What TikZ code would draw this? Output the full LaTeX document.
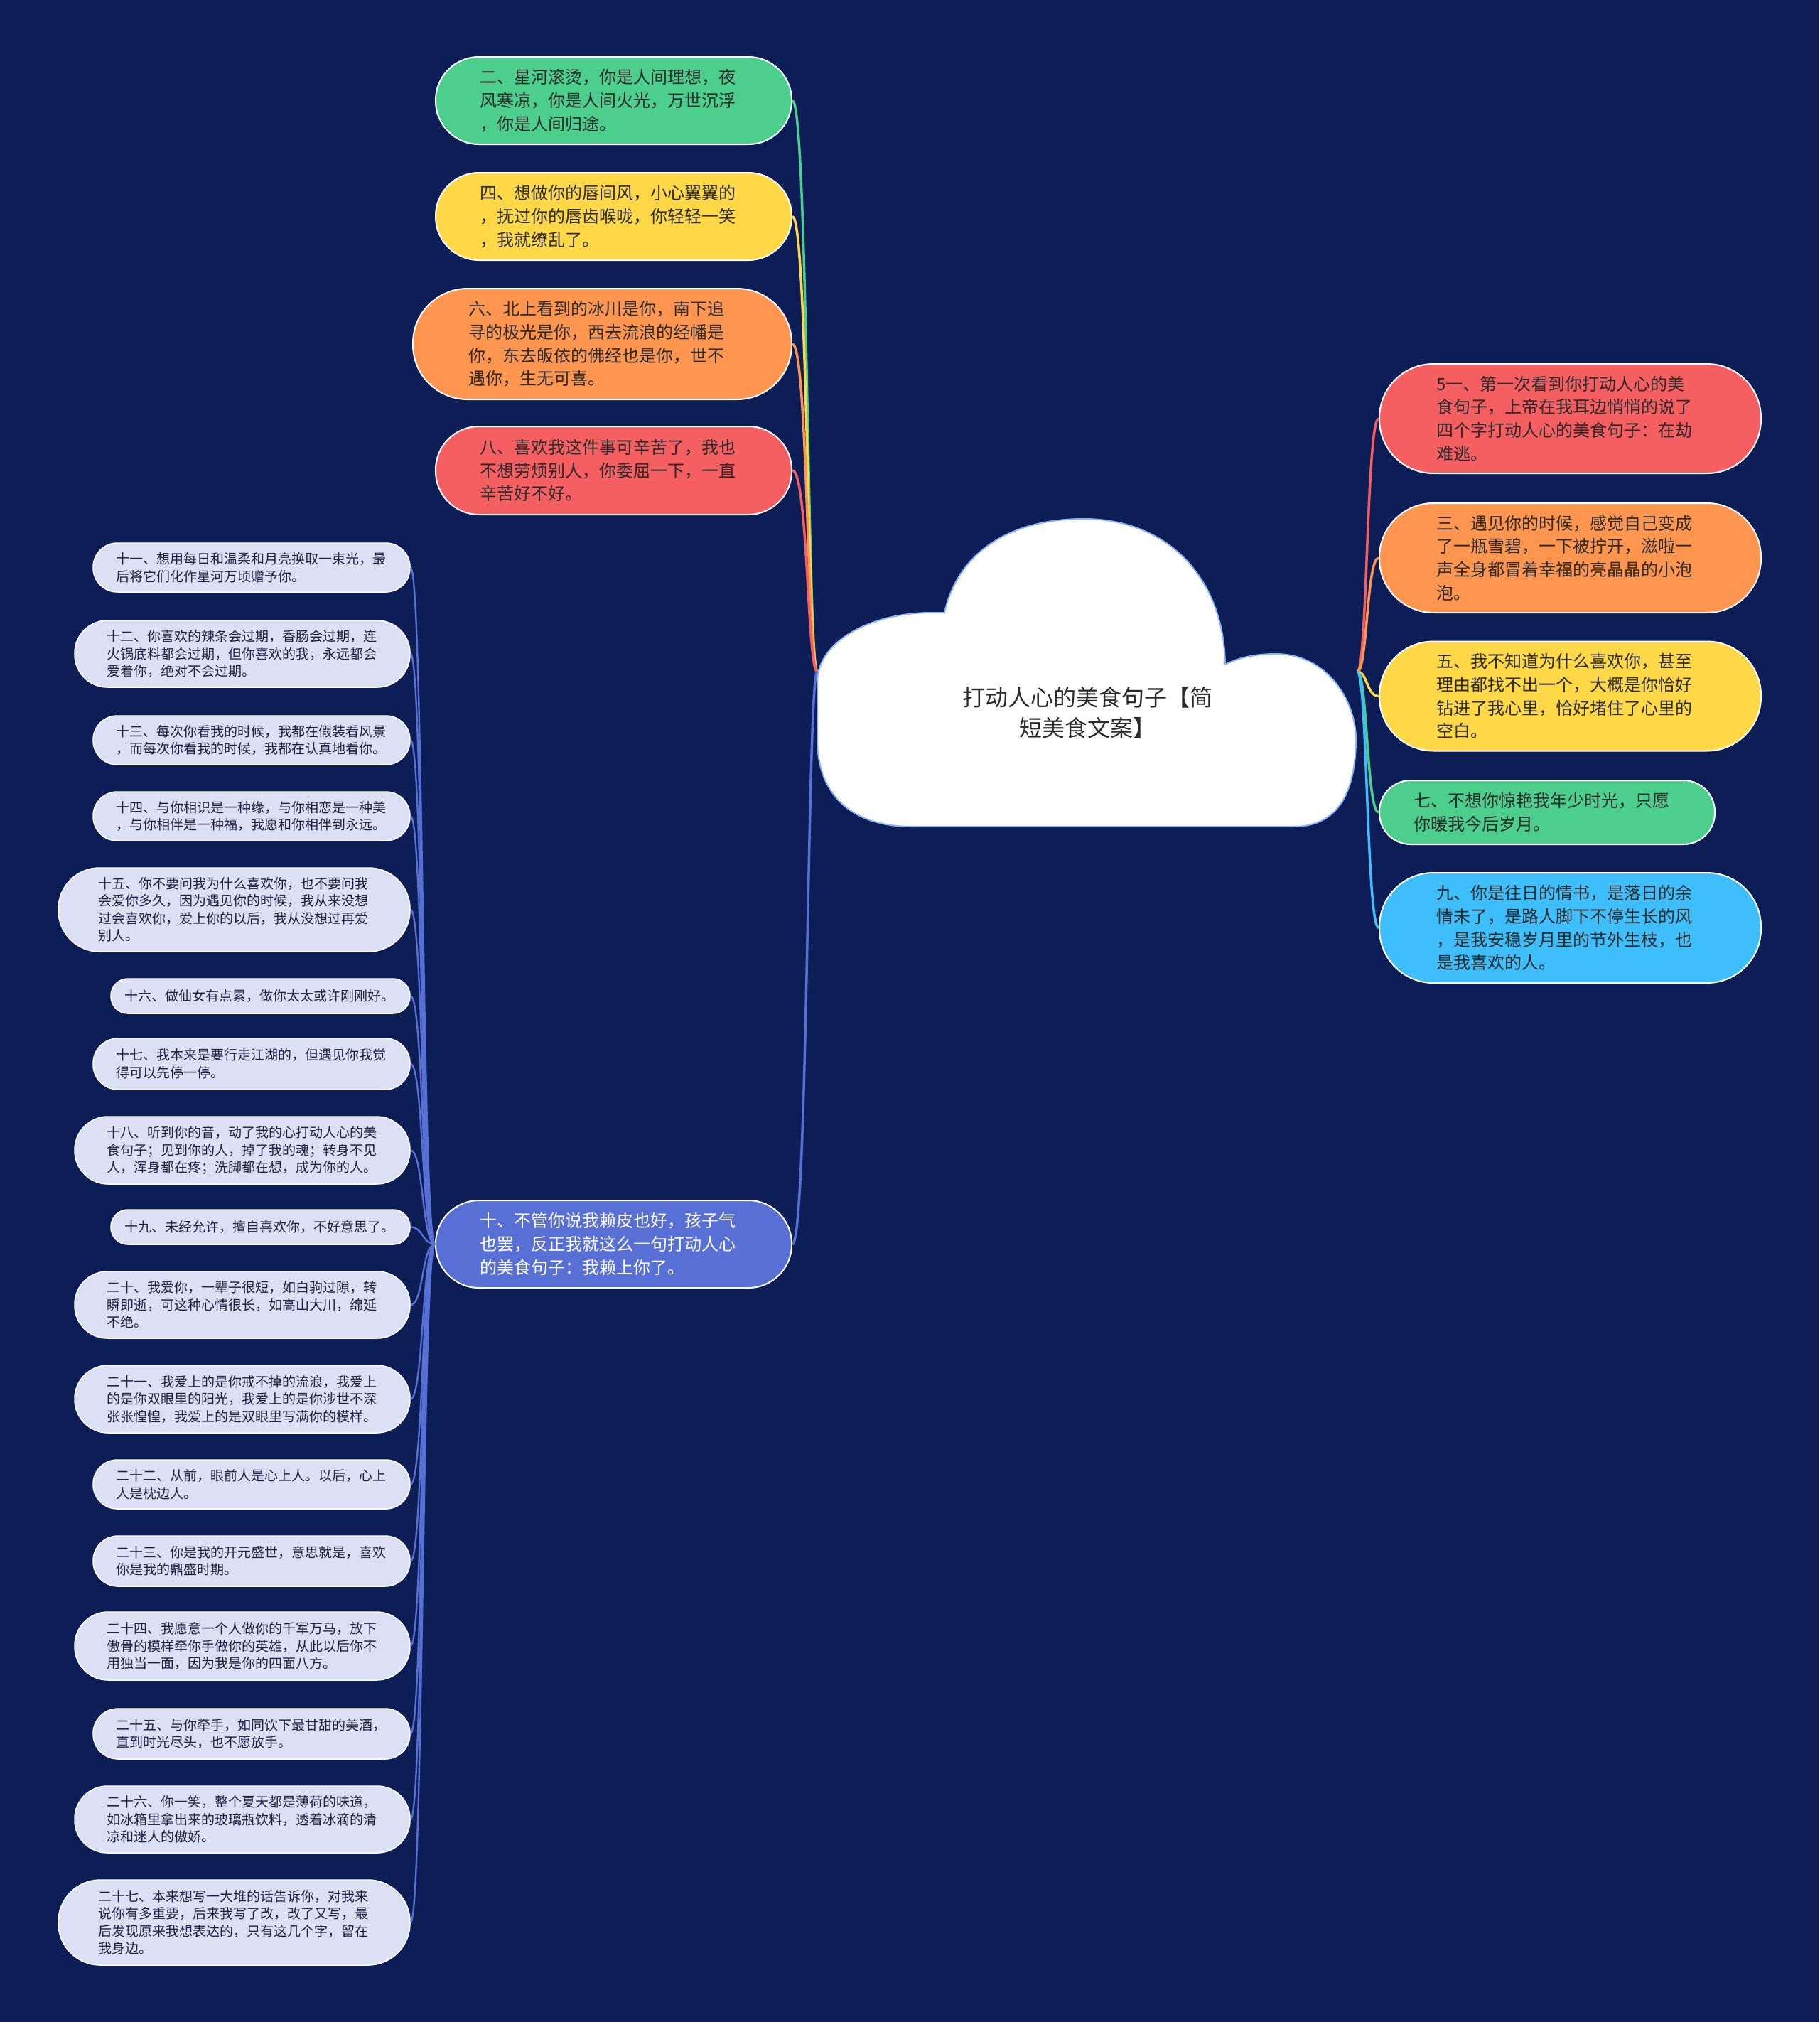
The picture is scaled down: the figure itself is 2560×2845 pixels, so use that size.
\documentclass[tikz,border=0pt]{standalone}
\usepackage{fontspec}
\setmainfont{Noto Sans CJK SC}
\definecolor{bg}{HTML}{0D1D56}
\definecolor{cgreen}{HTML}{4CCF8D}
\definecolor{cyellow}{HTML}{FFD848}
\definecolor{corange}{HTML}{FF9650}
\definecolor{cred}{HTML}{F55F62}
\definecolor{cblue}{HTML}{5870D6}
\definecolor{csky}{HTML}{3EBEFA}
\definecolor{csmall}{HTML}{DCE0F5}
\definecolor{txt}{HTML}{2A2A2A}
\definecolor{stxt}{HTML}{1C2142}
\definecolor{cloudline}{HTML}{8AB4F8}
\begin{document}
\begin{tikzpicture}[x=1pt,y=-1pt,
  pillbox/.style n args={3}{minimum width=#1pt, minimum height=#2pt, rounded corners=#3pt},
  midnode/.style={draw=white, line width=2pt, inner sep=0pt, text width=376pt, align=left,
    font=\fontsize{24}{32.7}\selectfont, text=txt},
  smallnode/.style={draw=white, line width=1.5pt, fill=csmall, inner sep=0pt, text width=382pt, align=left,
    font=\fontsize{19}{24.5}\selectfont, text=stxt},
  conn/.style={line width=3.5pt},
  sconn/.style={line width=2.4pt, draw=cblue},
  cloudshape/.style={fill=white, draw=cloudline, line width=2pt},
  titletext/.style={font=\fontsize{32}{43}\selectfont, text=txt, align=center}
]
\useasboundingbox (0,0) rectangle (2560,2845);
\fill[bg] (0,0) rectangle (2560,2845);

\coordinate (cl) at (1150,945);
\coordinate (cr) at (1910,945);

% left upper nodes
\node[midnode, fill=cgreen, pillbox={501}{123}{61}] (A) at (863.5,141.5) {二、星河滚烫，你是人间理想，夜\\风寒凉，你是人间火光，万世沉浮\\，你是人间归途。};
\node[midnode, fill=cyellow, pillbox={501}{123}{61}] (B) at (863.5,304.5) {四、想做你的唇间风，小心翼翼的\\，抚过你的唇齿喉咙，你轻轻一笑\\，我就缭乱了。};
\node[midnode, fill=corange, pillbox={533}{156}{77}] (C) at (847.5,484) {六、北上看到的冰川是你，南下追\\寻的极光是你，西去流浪的经幡是\\你，东去皈依的佛经也是你，世不\\遇你，生无可喜。};
\node[midnode, fill=cred, pillbox={501}{124}{61}] (D) at (863.5,662) {八、喜欢我这件事可辛苦了，我也\\不想劳烦别人，你委屈一下，一直\\辛苦好不好。};
\node[midnode, fill=cblue, text=white, pillbox={501}{123}{61}] (E) at (863.5,1750.5) {十、不管你说我赖皮也好，孩子气\\也罢，反正我就这么一句打动人心\\的美食句子：我赖上你了。};

% right nodes
\node[midnode, fill=cred, pillbox={537}{154}{76}] (R1) at (2209.5,589) {5一、第一次看到你打动人心的美\\食句子，上帝在我耳边悄悄的说了\\四个字打动人心的美食句子：在劫\\难逃。};
\node[midnode, fill=corange, pillbox={537}{154}{76}] (R2) at (2209.5,785) {三、遇见你的时候，感觉自己变成\\了一瓶雪碧，一下被拧开，滋啦一\\声全身都冒着幸福的亮晶晶的小泡\\泡。};
\node[midnode, fill=cyellow, pillbox={537}{154}{76}] (R3) at (2209.5,979.5) {五、我不知道为什么喜欢你，甚至\\理由都找不出一个，大概是你恰好\\钻进了我心里，恰好堵住了心里的\\空白。};
\node[midnode, fill=cgreen, pillbox={472}{90}{44}] (R4) at (2177,1143) {七、不想你惊艳我年少时光，只愿\\你暖我今后岁月。};
\node[midnode, fill=csky, pillbox={537}{155}{76}] (R5) at (2209.5,1305.5) {九、你是往日的情书，是落日的余\\情未了，是路人脚下不停生长的风\\，是我安稳岁月里的节外生枝，也\\是我喜欢的人。};

% small nodes
\node[smallnode, pillbox={446}{69}{34}] (S11) at (354,798.5) {十一、想用每日和温柔和月亮换取一束光，最\\后将它们化作星河万顷赠予你。};
\node[smallnode, pillbox={472}{94}{46}] (S12) at (341,920) {十二、你喜欢的辣条会过期，香肠会过期，连\\火锅底料都会过期，但你喜欢的我，永远都会\\爱着你，绝对不会过期。};
\node[smallnode, pillbox={446}{69}{34}] (S13) at (354,1041.5) {十三、每次你看我的时候，我都在假装看风景\\，而每次你看我的时候，我都在认真地看你。};
\node[smallnode, pillbox={446}{69}{34}] (S14) at (354,1148.5) {十四、与你相识是一种缘，与你相恋是一种美\\，与你相伴是一种福，我愿和你相伴到永远。};
\node[smallnode, pillbox={495}{118}{58}] (S15) at (329.5,1280) {十五、你不要问我为什么喜欢你，也不要问我\\会爱你多久，因为遇见你的时候，我从来没想\\过会喜欢你，爱上你的以后，我从没想过再爱\\别人。};
\node[smallnode, pillbox={421}{49}{24}] (S16) at (366.5,1401.5) {十六、做仙女有点累，做你太太或许刚刚好。};
\node[smallnode, pillbox={446}{72}{35}] (S17) at (354,1497) {十七、我本来是要行走江湖的，但遇见你我觉\\得可以先停一停。};
\node[smallnode, pillbox={472}{95}{47}] (S18) at (341,1618.5) {十八、听到你的音，动了我的心打动人心的美\\食句子；见到你的人，掉了我的魂；转身不见\\人，浑身都在疼；洗脚都在想，成为你的人。};
\node[smallnode, pillbox={421}{49}{24}] (S19) at (366.5,1726.5) {十九、未经允许，擅自喜欢你，不好意思了。};
\node[smallnode, pillbox={472}{94}{46}] (S20) at (341,1836) {二十、我爱你，一辈子很短，如白驹过隙，转\\瞬即逝，可这种心情很长，如高山大川，绵延\\不绝。};
\node[smallnode, pillbox={472}{95}{47}] (S21) at (341,1968.5) {二十一、我爱上的是你戒不掉的流浪，我爱上\\的是你双眼里的阳光，我爱上的是你涉世不深\\张张惶惶，我爱上的是双眼里写满你的模样。};
\node[smallnode, pillbox={446}{69}{34}] (S22) at (354,2088.5) {二十二、从前，眼前人是心上人。以后，心上\\人是枕边人。};
\node[smallnode, pillbox={446}{71}{35}] (S23) at (354,2196.5) {二十三、你是我的开元盛世，意思就是，喜欢\\你是我的鼎盛时期。};
\node[smallnode, pillbox={472}{96}{47}] (S24) at (341,2316) {二十四、我愿意一个人做你的千军万马，放下\\傲骨的模样牵你手做你的英雄，从此以后你不\\用独当一面，因为我是你的四面八方。};
\node[smallnode, pillbox={446}{71}{35}] (S25) at (354,2439.5) {二十五、与你牵手，如同饮下最甘甜的美酒，\\直到时光尽头，也不愿放手。};
\node[smallnode, pillbox={472}{94}{46}] (S26) at (341,2560) {二十六、你一笑，整个夏天都是薄荷的味道，\\如冰箱里拿出来的玻璃瓶饮料，透着冰滴的清\\凉和迷人的傲娇。};
\node[smallnode, pillbox={495}{120}{59}] (S27) at (329.5,2705) {二十七、本来想写一大堆的话告诉你，对我来\\说你有多重要，后来我写了改，改了又写，最\\后发现原来我想表达的，只有这几个字，留在\\我身边。};

% connectors
\draw[conn, cgreen] (cl) .. controls +(-14,0) and +(22,0) .. (A.east);
\draw[conn, cyellow] (cl) .. controls +(-14,0) and +(22,0) .. (B.east);
\draw[conn, corange] (cl) .. controls +(-14,0) and +(22,0) .. (C.east);
\draw[conn, cred] (cl) .. controls +(-14,0) and +(22,0) .. (D.east);
\draw[conn, cblue] (cl) .. controls +(-14,0) and +(22,0) .. (E.east);

\draw[conn, cred] (cr) .. controls +(14,0) and +(-17,0) .. (R1.west);
\draw[conn, corange] (cr) .. controls +(14,0) and +(-17,0) .. (R2.west);
\draw[conn, cyellow] (cr) .. controls +(14,0) and +(-17,0) .. (R3.west);
\draw[conn, cgreen] (cr) .. controls +(14,0) and +(-17,0) .. (R4.west);
\draw[conn, csky] (cr) .. controls +(14,0) and +(-17,0) .. (R5.west);

\foreach \s in {S11,S12,S13,S14,S15,S16,S17,S18,S19,S20,S21,S22,S23,S24,S25,S26,S27}
  \draw[sconn] (E.west) .. controls +(-18,0) and +(18,0) .. (\s.east);

% cloud
\draw[cloudshape] (1283,1163) .. controls (1200,1163) and (1150,1120) .. (1150,1040)
  -- (1150,960) .. controls (1150,900) and (1230,862) .. (1310,862) -- (1329,862)
  .. controls (1350,770) and (1430,730) .. (1525,730)
  .. controls (1640,730) and (1722,810) .. (1724,935)
  .. controls (1745,924) and (1770,920) .. (1795,920)
  .. controls (1870,920) and (1910,990) .. (1908,1045)
  .. controls (1906,1120) and (1880,1163) .. (1820,1163) -- cycle;
\node[titletext] (T) at (1530,1003) {打动人心的美食句子【简\\短美食文案】};
\end{tikzpicture}
\end{document}
